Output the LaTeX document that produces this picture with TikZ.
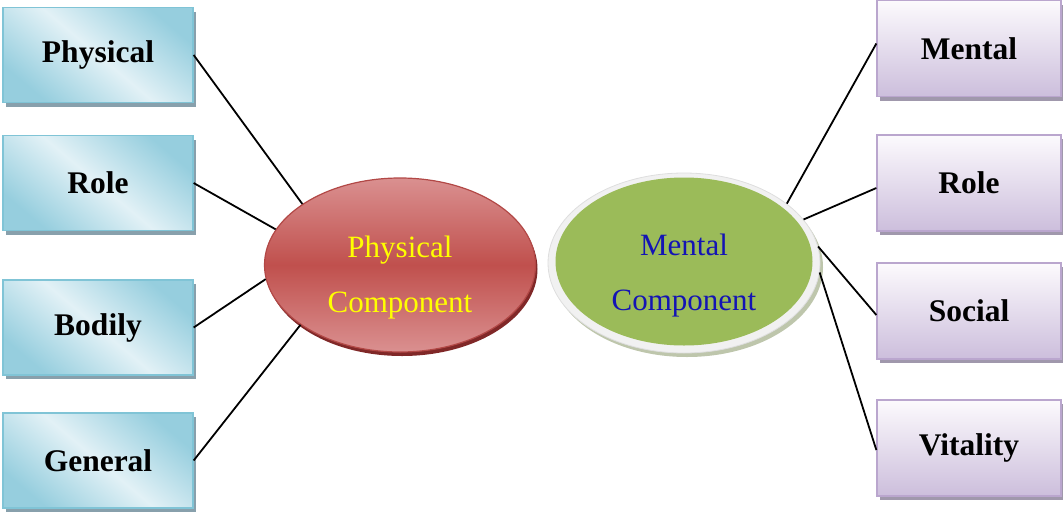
\documentclass[tikz,border=0pt]{standalone}
\usepackage{fontspec}
\setmainfont{Liberation Serif}
\usetikzlibrary{shapes.geometric,shadows}

\definecolor{cyandark}{RGB}{150,206,222}
\definecolor{cyanlight}{RGB}{226,241,246}
\definecolor{cyanedge}{RGB}{128,196,214}
\definecolor{cyanshadow}{RGB}{136,160,172}
\definecolor{lavtop}{RGB}{252,250,253}
\definecolor{lavbot}{RGB}{204,190,220}
\definecolor{lavedge}{RGB}{186,166,206}
\definecolor{lavshadow}{RGB}{160,152,172}
\definecolor{redlight}{RGB}{218,144,144}
\definecolor{redmid}{RGB}{192,80,77}
\definecolor{rededge}{RGB}{178,72,70}
\definecolor{redshadow}{RGB}{128,40,40}
\definecolor{greenfill}{RGB}{155,187,89}
\definecolor{rimfill}{RGB}{241,241,241}
\definecolor{rimedge}{RGB}{222,222,222}
\definecolor{rimshadow}{RGB}{190,198,172}
\definecolor{labelyellow}{RGB}{255,255,0}
\definecolor{labelblue}{RGB}{20,20,180}

\tikzset{
  boxfont/.style={font=\fontsize{31.5}{36}\selectfont\bfseries},
  leftbox/.style={rectangle, minimum width=190pt, minimum height=95pt,
    inner sep=0pt, draw=cyanedge, line width=1.3pt,
    top color=cyandark, bottom color=cyandark, middle color=cyanlight,
    shading angle=-40,
    general shadow={fill=cyanshadow, shadow xshift=3pt, shadow yshift=-4pt},
    boxfont},
  rightbox/.style={rectangle, minimum width=184pt, minimum height=96pt,
    inner sep=0pt, draw=lavedge, line width=1.3pt,
    top color=lavtop, bottom color=lavbot,
    general shadow={fill=lavshadow, shadow xshift=3pt, shadow yshift=-4pt},
    boxfont},
  hub/.style={ellipse, inner sep=0pt},
  hubtext/.style={anchor=base, inner sep=0pt, font=\fontsize{31}{36}\selectfont},
  link/.style={draw=black, line width=1.8pt}
}

\begin{document}
\begin{tikzpicture}[x=1pt, y=-1pt]
  \useasboundingbox (0,0) rectangle (1063,517);

  % left column
  \node[leftbox] (lphys) at (98,55)    {Physical};
  \node[leftbox] (lrole) at (98,183)   {Role};
  \node[leftbox] (lbody) at (98,327.5) {Bodily};
  \node[leftbox] (lgen)  at (98,460.5) {General};

  % right column
  \node[rightbox] (rment) at (969,48.5) {Mental};
  \node[rightbox] (rrole) at (969,183)  {Role};
  \node[rightbox] (rsoc)  at (969,311)  {Social};
  \node[rightbox] (rvit)  at (969,448)  {Vitality};

  % physical hub
  \node[hub, minimum width=271pt, minimum height=174pt, draw=rededge,
        line width=1.2pt, top color=redlight, bottom color=redlight,
        middle color=redmid,
        general shadow={fill=redshadow, shadow xshift=2pt, shadow yshift=-4pt}]
        (phys) at (400,265) {};
  \node[hubtext, text=labelyellow] (physa) at (400,257) {Physical};
  \node[hubtext, text=labelyellow] (physb) at (400,312) {Component};

  % mental hub
  \node[hub, minimum width=272pt, minimum height=180pt, fill=rimfill,
        draw=rimedge, line width=0.8pt,
        general shadow={fill=rimshadow, shadow xshift=3pt, shadow yshift=-4pt}]
        (ment) at (684,263) {};
  \node[hub, minimum width=257pt, minimum height=168pt, fill=greenfill]
        (mentin) at (684,261.5) {};
  \node[hubtext, text=labelblue] (menta) at (684,255) {Mental};
  \node[hubtext, text=labelblue] (mentb) at (684,310) {Component};

  % connectors
  \draw[link] (lphys.east) -- (phys.148);
  \draw[link] (lrole.east) -- (phys.164);
  \draw[link] (lbody.east) -- (phys.186);
  \draw[link] (lgen.east)  -- (phys.211);

  \draw[link] ([yshift=5pt]rment.west) -- (ment.30);
  \draw[link] ([yshift=-5pt]rrole.west) -- (ment.20.6);
  \draw[link] ([yshift=-4pt]rsoc.west) -- (ment.7.4);
  \draw[link] ([yshift=-2pt]rvit.west) -- (ment.-4.4);
\end{tikzpicture}
\end{document}
